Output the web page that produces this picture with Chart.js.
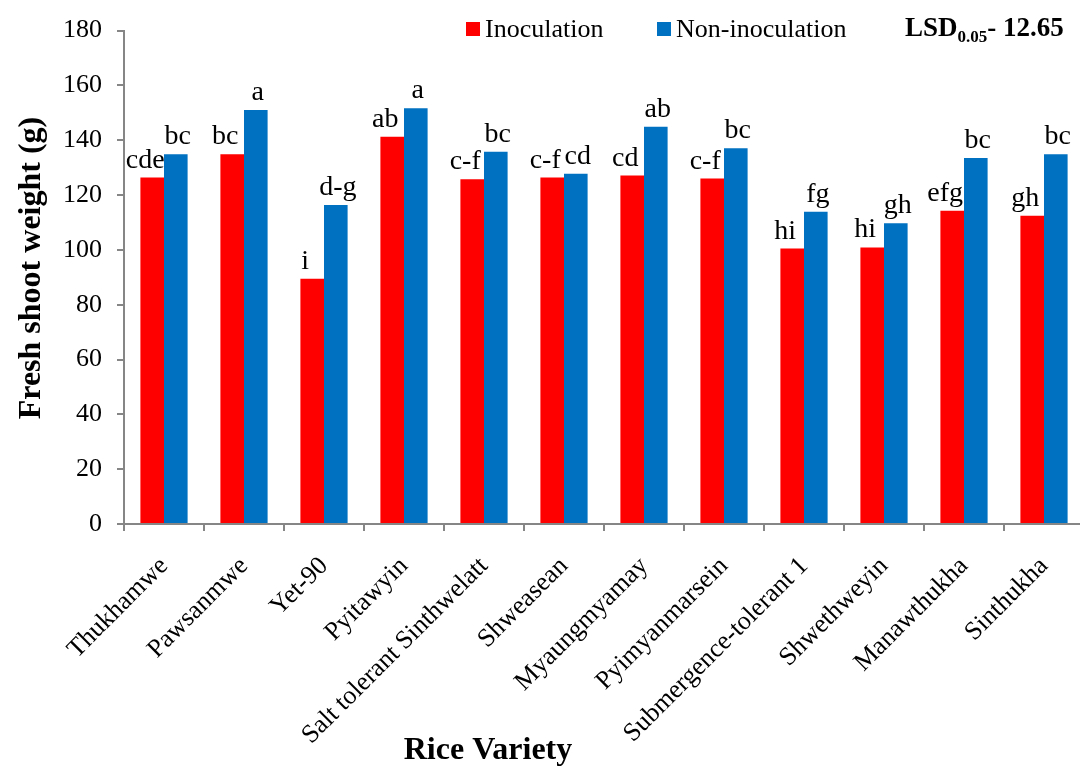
<!DOCTYPE html>
<html>
<head>
<meta charset="utf-8">
<script src="https://cdn.jsdelivr.net/npm/chart.js@4.4.1/dist/chart.umd.min.js"></script>
<style>
  html, body { margin: 0; padding: 0; background: #fff; overflow: hidden; }
  #wrap { position: relative; width: 1090px; height: 767px; }
</style>
</head>
<body>
<div id="wrap"><canvas id="c"></canvas></div>
<script>
// Rice varieties on the category axis
const categories = [
  'Thukhamwe', 'Pawsanmwe', 'Yet-90', 'Pyitawyin', 'Salt tolerant Sinthwelatt',
  'Shweasean', 'Myaungmyamay', 'Pyimyanmarsein', 'Submergence-tolerant 1',
  'Shwethweyin', 'Manawthukha', 'Sinthukha'
];
// Fresh shoot weight (g)
const inoculation = [126.4, 134.9, 89.5, 141.3, 125.8, 126.4, 127.1, 126.0, 100.5, 100.9, 114.3, 112.5];
const nonInoculation = [134.9, 151.0, 116.4, 151.7, 135.8, 127.8, 144.9, 137.1, 113.9, 109.7, 133.5, 134.9];
// Mean separation letters
const inoculationLetters = ['cde', 'bc', 'i', 'ab', 'c-f', 'c-f', 'cd', 'c-f', 'hi', 'hi', 'efg', 'gh'];
const nonInoculationLetters = ['bc', 'a', 'd-g', 'a', 'bc', 'cd', 'ab', 'bc', 'fg', 'gh', 'bc', 'bc'];
const seriesNames = ['Inoculation', 'Non-inoculation'];
const lsdValue = '12.65';

const SERIF = '"Liberation Serif", "Times New Roman", serif';
const AXIS_GREY = '#868686';

// Letters above each bar, legend, LSD note and axis titles
const annotate = {
  id: 'annotate',
  afterDatasetsDraw(chart) {
    const ctx = chart.ctx;
    const letterSets = [inoculationLetters, nonInoculationLetters];
    const letterShift = [-7, 2];
    ctx.save();
    ctx.fillStyle = '#000';
    ctx.font = '28px ' + SERIF;
    ctx.textAlign = 'center';
    ctx.textBaseline = 'alphabetic';
    chart.data.datasets.forEach((ds, di) => {
      chart.getDatasetMeta(di).data.forEach((bar, i) => {
        ctx.fillText(letterSets[di][i], bar.x + letterShift[di], bar.y - 10);
      });
    });

    // Legend
    const legendX = [466, 657];
    ctx.textAlign = 'left';
    ctx.font = '26px ' + SERIF;
    chart.data.datasets.forEach((ds, di) => {
      ctx.fillStyle = ds.backgroundColor;
      ctx.fillRect(legendX[di], 22, 14, 14);
      ctx.fillStyle = '#000';
      ctx.fillText(ds.label, legendX[di] + 19, 37);
    });

    // LSD note
    let x = 905;
    ctx.font = 'bold 27px ' + SERIF;
    ctx.fillText('LSD', x, 36);
    x += ctx.measureText('LSD').width;
    ctx.font = 'bold 17px ' + SERIF;
    ctx.fillText('0.05', x, 42);
    x += ctx.measureText('0.05').width;
    ctx.font = 'bold 27px ' + SERIF;
    ctx.fillText('- ' + lsdValue, x, 36);

    // Axis titles
    ctx.font = 'bold 32px ' + SERIF;
    ctx.textAlign = 'center';
    ctx.fillText('Rice Variety', 488, 759);
    ctx.translate(40, 268);
    ctx.rotate(-Math.PI / 2);
    ctx.fillText('Fresh shoot weight (g)', 0, 0);
    ctx.restore();
  }
};

new Chart(document.getElementById('c'), {
  type: 'bar',
  data: {
    labels: categories,
    datasets: [
      { label: seriesNames[0], data: inoculation, backgroundColor: '#FF0000', borderWidth: 0 },
      { label: seriesNames[1], data: nonInoculation, backgroundColor: '#0070C0', borderWidth: 0 }
    ]
  },
  options: {
    responsive: true,
    maintainAspectRatio: false,
    animation: false,
    layout: { padding: { left: 0, right: 6, top: 18, bottom: 0 } },
    datasets: { bar: { categoryPercentage: 0.59, barPercentage: 1.0 } },
    plugins: { legend: { display: false }, tooltip: { enabled: false } },
    scales: {
      x: {
        grid: { drawOnChartArea: false, drawTicks: true, tickLength: 7, color: AXIS_GREY, lineWidth: 2, offset: true },
        border: { color: AXIS_GREY, width: 2 },
        ticks: { color: '#000', font: { family: SERIF, size: 26 }, maxRotation: 45, minRotation: 45, padding: 20, autoSkip: false },
        afterFit(scale) { scale.height = 243; }
      },
      y: {
        min: 0, max: 180,
        grid: { drawOnChartArea: false, drawTicks: true, tickLength: 7, color: AXIS_GREY, lineWidth: 2 },
        border: { color: AXIS_GREY, width: 2 },
        ticks: { stepSize: 20, color: '#000', font: { family: SERIF, size: 26 }, padding: 15 },
        afterFit(scale) { scale.width = 124; }
      }
    }
  },
  plugins: [annotate]
});
</script>
</body>
</html>
